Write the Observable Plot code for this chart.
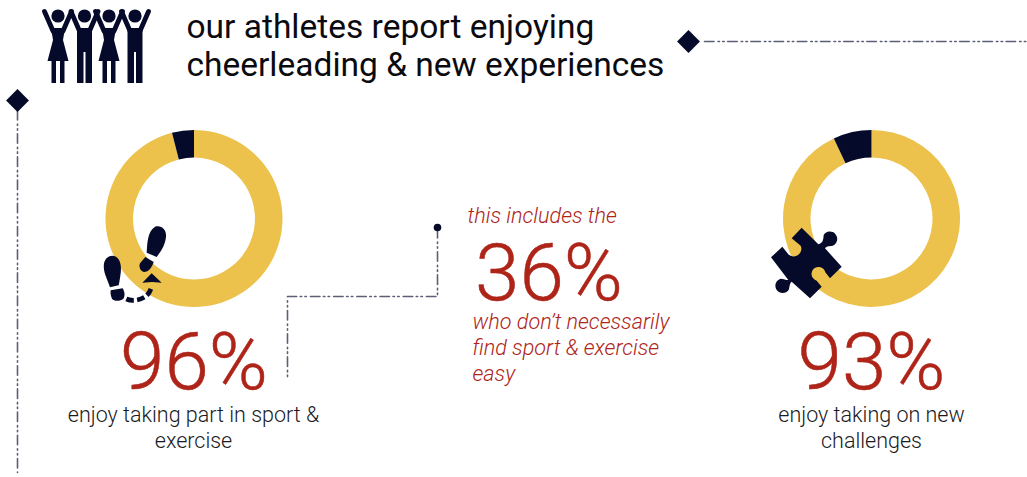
<!DOCTYPE html>
<html>
<head>
<meta charset="utf-8">
<script src="https://cdn.jsdelivr.net/npm/d3@7"></script>
<script src="https://cdn.jsdelivr.net/npm/@observablehq/plot@0.6"></script>
<style>
  html, body { margin: 0; padding: 0; background: #fff; }
  svg { display: block; }
</style>
</head>
<body>
<div id="chart"></div>
<script>
// Survey results
const agreePercent = [96, 93];
const subgroupPercent = 36;

// Wording
const titleLines = ["our athletes report enjoying", "cheerleading & new experiences"];
const sportCaption = ["enjoy taking part in sport &", "exercise"];
const challengeCaption = ["enjoy taking on new", "challenges"];
const subgroupIntro = "this includes the";
const subgroupCaption = ["who don’t necessarily", "find sport & exercise", "easy"];

const navy = "#060a2a";
const gold = "#ecc14c";
const red = "#ae2418";
const rail = "#5c5e78";
const railDash = "9.5,4,1.5,3.2,1.5,3.5";
const W = 1027, H = 477;

// One donut slice as a dot symbol, so the x/y scales place it
const sliceSymbol = (start, end, inner, outer) => ({
  draw(context) {
    d3.arc().context(context)({innerRadius: inner, outerRadius: outer, startAngle: start, endAngle: end});
  }
});

function donut(cx, cy, percent) {
  const split = 2 * Math.PI * percent / 100;
  const base = {x: () => cx, y: () => cy, stroke: "none"};
  return [
    Plot.dot([percent], {...base, fill: gold, symbol: sliceSymbol(0, split, 61, 88.5)}),
    Plot.dot([percent], {...base, fill: navy, symbol: sliceSymbol(split, 2 * Math.PI, 61, 88.5)})
  ];
}

// Block of text lines, one baseline per row
function lines(rows, x, baselines, options) {
  return Plot.text(rows, {
    x: () => x,
    y: (d, i) => baselines[i],
    text: d => d,
    lineAnchor: "bottom",
    fontFamily: "Roboto",
    ...options
  });
}

// Icon outlines drawn in their own local units, placed through the scales
const iconMark = (build, ox, oy, k) => (index, {x, y}) => {
  const g = d3.create("svg:g").attr("transform", `translate(${x(ox)},${y(oy)}) scale(${k})`);
  build(g);
  return g.node();
};

function cheerleaders(g) {
  const centres = [58, 84.5, 109, 135];
  centres.forEach((c, i) => {
    g.append("circle").attr("cx", c).attr("cy", 16).attr("r", 6.6).attr("fill", navy);
    g.append("path")
      .attr("d", `M${c - 13.5},11.5L${c - 5},31M${c + 13.5},11.5L${c + 5},31`)
      .attr("stroke", navy).attr("stroke-width", 4.8).attr("stroke-linecap", "round").attr("fill", "none");
    const body = i % 2 === 0
      ? `M${c - 7},28H${c + 7}L${c + 5},40L${c + 10.5},61H${c + 6.5}V83H${c + 2}V61H${c - 2}V83H${c - 6.5}V61H${c - 10.5}L${c - 5},40Z`
      : `M${c - 7.5},28H${c + 7.5}V83H${c + 1}V52H${c - 1}V83H${c - 7.5}Z`;
    g.append("path").attr("d", body).attr("fill", navy);
  });
}

function footprints(g) {
  const shapes = [
    "M170,128C172,100 172,65 195,50C215,44 230,60 228,80C226,105 212,125 200,141Z",
    "M166,141L191,156C186,172 176,186 162,186C150,184 146,170 150,160Z",
    "M60,232C52,208 38,185 42,160C46,140 64,132 78,140C94,150 94,175 92,190C90,205 88,218 86,226Z",
    "M62,241L98,235C104,245 106,258 100,266C90,274 72,274 66,266C62,258 61,250 62,241Z",
    "M157,218L185,190L215,218L186,216Z"
  ];
  shapes.forEach(d => g.append("path").attr("d", d).attr("fill", navy));
  g.append("path")
    .attr("d", "M109,267C125,274 148,272 166,260C174,254 180,246 184,233")
    .attr("fill", "none").attr("stroke", navy).attr("stroke-width", 14).attr("stroke-dasharray", "23,10");
}

function puzzlePiece(g) {
  g.append("path").attr("fill", navy).attr("d",
    "M33,127L67,95L85,118A23,23 0 0 0 122,92L95,70L125,38L175,88C188,84 190,76 191,60A22,22 0 1 1 218,92C210,94 200,92 195,100" +
    "L245,155L210,190L196,172A21,21 0 1 0 170,197L185,215L150,250L95,200C88,205 88,222 86,225" +
    "A22,22 0 1 1 62,191C72,192 80,196 85,195Z");
}

const [sportValue, challengeValue] = agreePercent;

const chart = Plot.plot({
  width: W,
  height: H,
  margin: 0,
  style: {background: "#fff", overflow: "visible"},
  x: {domain: [0, W], range: [0, W], axis: null},
  y: {domain: [0, H], range: [0, H], axis: null},
  marks: [
    // Decorative rails and the connector to the subgroup callout
    Plot.line([[704, 41], [W, 41]], {x: "0", y: "1", stroke: rail, strokeWidth: 1.6, strokeDasharray: railDash}),
    Plot.line([[17, 110], [17, 472]], {x: "0", y: "1", stroke: rail, strokeWidth: 1.6, strokeDasharray: railDash}),
    Plot.line([[437, 228], [437, 296], [287, 296], [287, 377]], {x: "0", y: "1", stroke: rail, strokeWidth: 1.6, strokeDasharray: railDash}),
    Plot.dot([[688, 41], [17, 100]], {x: "0", y: "1", symbol: "diamond2", r: 10.3, fill: navy, stroke: "none"}),
    Plot.dot([[437, 227]], {x: "0", y: "1", r: 3.8, fill: navy, stroke: "none"}),

    // Donuts
    ...donut(193.5, 218, sportValue),
    ...donut(871, 218, challengeValue),

    // Icons
    iconMark(cheerleaders, 0, 0, 1),
    iconMark(footprints, 90, 210, 1 / 3),
    iconMark(puzzlePiece, 760, 215, 1 / 3),

    // Title
    lines(titleLines, 186, [37, 75], {textAnchor: "start", fontSize: 33.5, fill: "#0b0b0f", fontWeight: 400}),

    // Headline percentages
    lines([`${sportValue}%`], 193.5, [388], {textAnchor: "middle", fontSize: 80, fontWeight: 300, fill: red, stroke: red, strokeWidth: 0.5}),
    lines([`${challengeValue}%`], 871, [388], {textAnchor: "middle", fontSize: 80, fontWeight: 300, fill: red, stroke: red, strokeWidth: 0.5}),
    lines([`${subgroupPercent}%`], 474.5, [299], {textAnchor: "start", fontSize: 80, fontWeight: 300, fill: red, stroke: red, strokeWidth: 0.5}),

    // Captions
    lines(sportCaption, 193, [421, 447], {textAnchor: "middle", fontSize: 21.5, fontWeight: 300, fill: "#1a1a1e"}),
    lines(challengeCaption, 871, [421, 447], {textAnchor: "middle", fontSize: 21.5, fontWeight: 300, fill: "#1a1a1e"}),
    lines([subgroupIntro], 467, [222], {textAnchor: "start", fontSize: 21.6, fontWeight: 300, fontStyle: "italic", fill: red}),
    lines(subgroupCaption, 472, [328, 354, 380], {textAnchor: "start", fontSize: 21.6, fontWeight: 300, fontStyle: "italic", fill: red})
  ]
});

document.getElementById("chart").appendChild(chart);
</script>
</body>
</html>
